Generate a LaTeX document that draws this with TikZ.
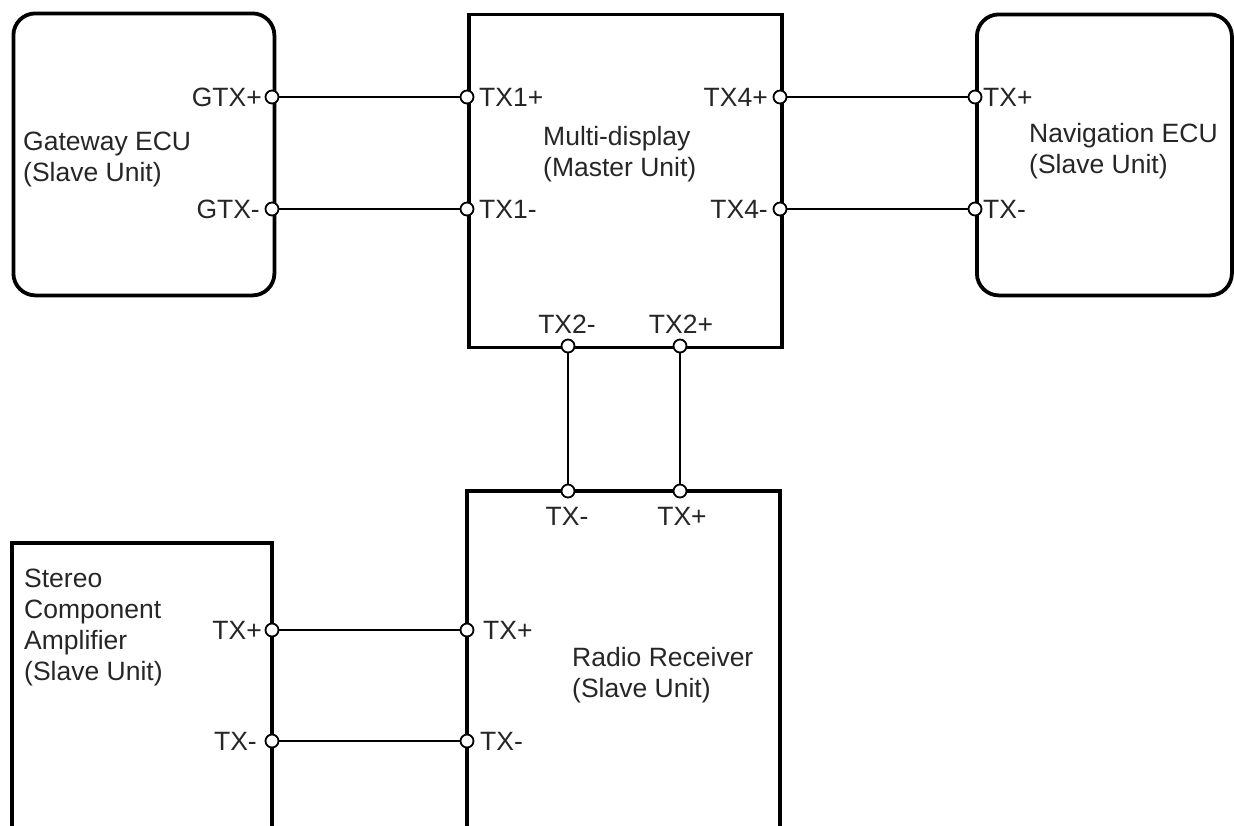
\documentclass[tikz,border=0pt]{standalone}
\usepackage{fontspec}
\setmainfont{Liberation Sans}
\begin{document}
\begin{tikzpicture}[x=1pt,y=-1pt,
  box/.style={draw, line width=3.8pt, inner sep=0pt, anchor=north west},
  rbox/.style={box, rounded corners=22pt},
  term/.style={circle, draw, fill=white, line width=1.8pt, inner sep=0pt, minimum size=13pt},
  wire/.style={line width=1.8pt},
  lbl/.style={font=\fontsize{26.5}{31}\selectfont, inner sep=0pt, text=black!85},
  ttl/.style={lbl, align=left, anchor=west}]
\useasboundingbox (0,0) rectangle (1234,825);
% boxes
\node[rbox, minimum width=261pt, minimum height=282pt] (gw) at (11.5,11.5) {};
\node[box, minimum width=313pt, minimum height=333pt] (md) at (467,12.5) {};
\node[rbox, minimum width=255pt, minimum height=281pt] (nav) at (975,12.5) {};
\draw[line width=3.8pt] (467,830) -- (467,491) -- (780,491) -- (780,830);
\coordinate (rr) at (623,491);
\draw[line width=3.8pt] (12,830) -- (12,543) -- (272,543) -- (272,830);
\coordinate (sa) at (142,543);
% titles
\node[ttl] (gwt) at (23,159) {Gateway ECU\\(Slave Unit)};
\node[ttl] (mdt) at (543,154) {Multi-display\\(Master Unit)};
\node[ttl] (navt) at (1029,151) {Navigation ECU\\(Slave Unit)};
\node[ttl] (rrt) at (572,675) {Radio Receiver\\(Slave Unit)};
\node[ttl] (sat) at (24,627) {Stereo\\Component\\Amplifier\\(Slave Unit)};
% terminals
\node[term] (gtxp) at (272,97) {};
\node[term] (gtxm) at (272,209) {};
\node[term] (tx1p) at (467,97) {};
\node[term] (tx1m) at (467,209) {};
\node[term] (tx4p) at (780,97) {};
\node[term] (tx4m) at (780,209) {};
\node[term] (ntxp) at (975,97) {};
\node[term] (ntxm) at (975,209) {};
\node[term] (tx2m) at (568,346) {};
\node[term] (tx2p) at (680,346) {};
\node[term] (rtxm) at (568,491) {};
\node[term] (rtxp) at (680,491) {};
\node[term] (rltxp) at (467,630) {};
\node[term] (rltxm) at (467,741) {};
\node[term] (stxp) at (272,630) {};
\node[term] (stxm) at (272,741) {};
% wires
\draw[wire] (gtxp) -- (tx1p);
\draw[wire] (gtxm) -- (tx1m);
\draw[wire] (tx4p) -- (ntxp);
\draw[wire] (tx4m) -- (ntxm);
\draw[wire] (tx2m) -- (rtxm);
\draw[wire] (tx2p) -- (rtxp);
\draw[wire] (stxp) -- (rltxp);
\draw[wire] (stxm) -- (rltxm);
% terminal labels
\node[lbl, anchor=east] (l1) at (262,97) {GTX+};
\node[lbl, anchor=east] (l2) at (260,209) {GTX-};
\node[lbl, anchor=west] (l3) at (479,97) {TX1+};
\node[lbl, anchor=west] (l4) at (479,209) {TX1-};
\node[lbl, anchor=east] (l5) at (768,97) {TX4+};
\node[lbl, anchor=east] (l6) at (768,209) {TX4-};
\node[lbl, anchor=west] (l7) at (983,97) {TX+};
\node[lbl, anchor=west] (l8) at (983,209) {TX-};
\node[lbl] (l9) at (567,324) {TX2-};
\node[lbl] (l10) at (681,324) {TX2+};
\node[lbl] (l11) at (567,516) {TX-};
\node[lbl] (l12) at (682,516) {TX+};
\node[lbl, anchor=west] (l13) at (483,630) {TX+};
\node[lbl, anchor=west] (l14) at (480,741) {TX-};
\node[lbl, anchor=east] (l15) at (262,630) {TX+};
\node[lbl, anchor=east] (l16) at (257,741) {TX-};
\end{tikzpicture}
\end{document}
